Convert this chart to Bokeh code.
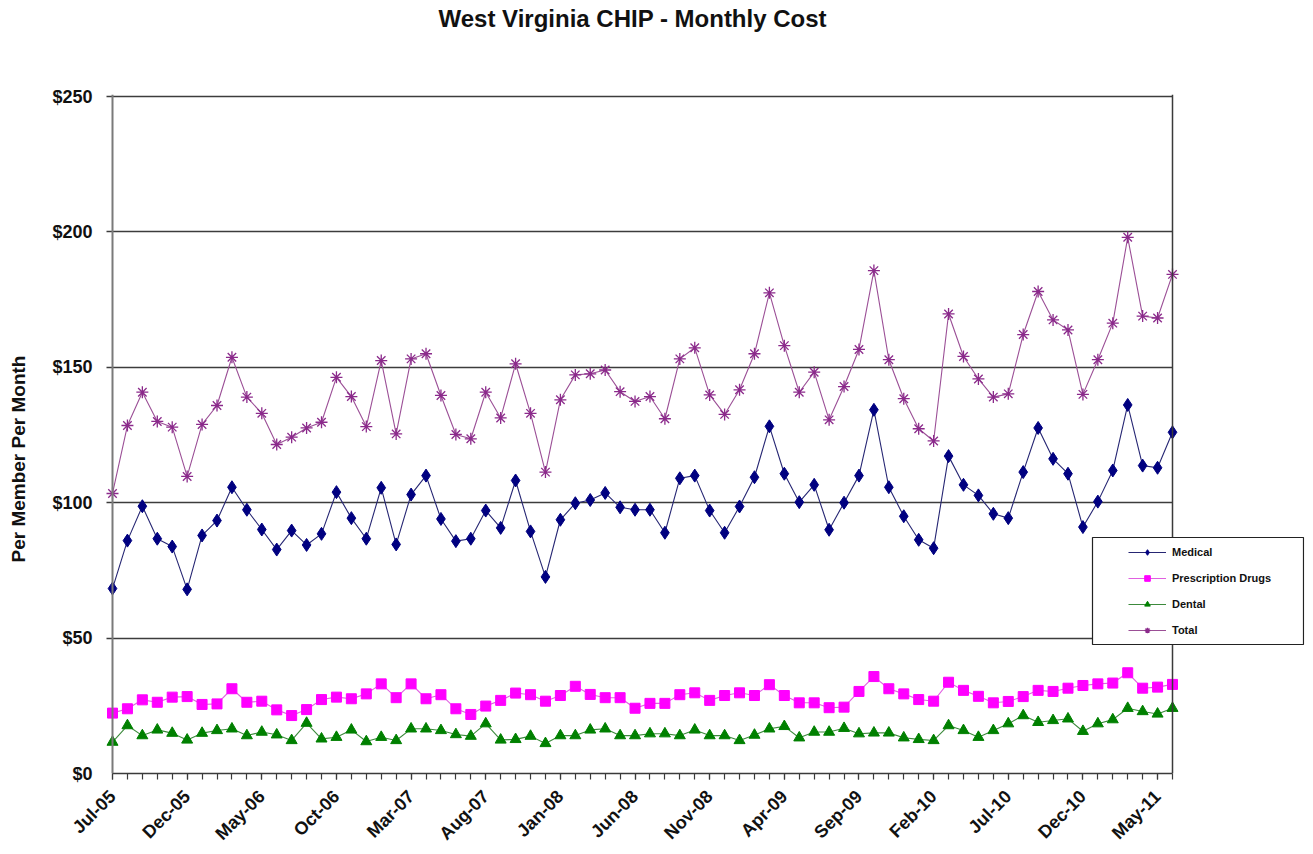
import pandas as pd
from math import pi
from bokeh.plotting import figure
from bokeh.models import (Range1d, FixedTicker, Span, BoxAnnotation, Legend, LegendItem,
                          LinearAxis, Title)
from bokeh.embed import file_html
from bokeh.resources import INLINE

# ---------------- data ----------------
months = list(pd.date_range("2005-07-01", periods=72, freq="MS").strftime("%b-%y"))

medical = [68.3, 86.0, 98.7, 86.7, 83.8, 68.0, 87.9, 93.4, 105.7, 97.4, 90.1, 82.7,
           89.7, 84.4, 88.5, 103.9, 94.3, 86.7, 105.5, 84.6, 103.0, 110.0, 94.0, 85.8,
           86.7, 97.1, 90.7, 108.2, 89.4, 72.6, 93.7, 99.8, 101.0, 103.6, 98.3, 97.4,
           97.4, 88.9, 109.0, 110.0, 97.1, 88.9, 98.6, 109.4, 128.2, 110.7, 100.2, 106.6,
           90.0, 100.0, 110.0, 134.3, 105.7, 95.0, 86.3, 83.2, 117.2, 106.6, 102.7, 95.9,
           94.3, 111.3, 127.6, 116.2, 110.7, 91.0, 100.4, 111.9, 136.1, 113.7, 112.9, 126.0]

rx = [22.3, 23.9, 27.2, 26.3, 28.2, 28.4, 25.5, 25.7, 31.3, 26.3, 26.7, 23.5,
      21.4, 23.6, 27.3, 28.2, 27.6, 29.4, 33.1, 28.0, 33.1, 27.6, 29.1, 23.9,
      21.8, 24.9, 27.0, 29.7, 29.1, 26.7, 28.8, 32.2, 29.2, 28.0, 28.0, 24.1,
      25.9, 25.9, 29.1, 29.8, 27.0, 28.8, 29.8, 28.8, 32.8, 28.8, 26.1, 26.1,
      24.3, 24.5, 30.3, 35.8, 31.3, 29.4, 27.3, 26.7, 33.7, 30.7, 28.5, 26.1,
      26.6, 28.4, 30.7, 30.3, 31.5, 32.5, 33.1, 33.4, 37.2, 31.5, 31.9, 32.9]

dental = [11.6, 17.7, 14.0, 16.1, 14.9, 12.4, 14.9, 15.9, 16.5, 14.0, 15.3, 14.3,
          12.2, 18.6, 12.8, 13.4, 16.1, 11.8, 13.4, 12.2, 16.5, 16.5, 15.9, 14.4,
          13.8, 18.4, 12.4, 12.6, 13.8, 11.1, 14.0, 14.0, 16.1, 16.5, 14.0, 14.0,
          14.7, 14.7, 14.0, 16.1, 14.0, 14.0, 12.2, 14.2, 16.5, 17.4, 13.2, 15.3,
          15.3, 16.7, 14.7, 15.0, 15.0, 13.2, 12.6, 12.2, 17.7, 15.9, 13.4, 15.9,
          18.4, 21.4, 18.9, 19.6, 20.2, 15.6, 18.4, 19.9, 24.1, 22.9, 22.0, 24.1]

total = [103.4, 128.5, 140.8, 130.0, 127.9, 109.7, 128.9, 135.9, 153.7, 139.0, 133.0, 121.5,
         124.2, 127.6, 129.7, 146.3, 139.2, 128.1, 152.5, 125.4, 153.1, 155.0, 139.6, 125.2,
         123.6, 140.8, 131.3, 151.3, 133.0, 111.3, 138.0, 147.2, 147.6, 149.0, 141.0, 137.4,
         139.2, 131.0, 153.1, 157.2, 139.8, 132.6, 141.7, 155.0, 177.5, 158.0, 140.8, 148.2,
         130.6, 142.9, 156.6, 185.7, 152.8, 138.4, 127.3, 122.8, 169.7, 154.0, 145.7, 139.0,
         140.2, 162.1, 178.0, 167.5, 163.8, 140.0, 152.8, 166.3, 198.0, 168.9, 168.2, 184.3]

y_ticks = [0, 50, 100, 150, 200, 250]
y_tick_labels = ["$0", "$50", "$100", "$150", "$200", "$250"]
series_names = ["Medical", "Prescription Drugs", "Dental", "Total"]
title_text = "West Virginia CHIP - Monthly Cost"
y_label_text = "Per Member Per Month"

# ---------------- layout ----------------
x = list(range(len(months)))
last = len(months) - 1
FRAME_LEFT, FRAME_TOP = 104, 94
FRAME_W, FRAME_H = 1200, 679
PX_X = 1060 / last          # px per month
PX_Y = 677 / 250            # px per dollar
X0_PX = 112                 # screen x of first month
Y0_PX = FRAME_TOP + FRAME_H  # screen y of $0
x0 = -(X0_PX - FRAME_LEFT) / PX_X
x1 = x0 + FRAME_W / PX_X
y1 = FRAME_H / PX_Y

FONT = "Liberation Sans"
INK = "#111111"

p = figure(frame_width=FRAME_W, frame_height=FRAME_H,
           x_range=Range1d(x0, x1), y_range=Range1d(0, y1),
           min_border_left=FRAME_LEFT, min_border_right=1, min_border_top=FRAME_TOP,
           min_border_bottom=72,
           output_backend="svg", toolbar_location=None,
           background_fill_color="white", border_fill_color="white",
           outline_line_color=None)
xa = p.below[0]
ya = p.left[0]

# ---- title (offset from frame left so it is centred like the reference) ----
p.title.text = title_text
p.title.text_font = FONT
p.title.text_font_size = "24px"
p.title.text_font_style = "bold"
p.title.text_color = INK
p.title.align = "left"
p.title.offset = 334
p.title.standoff = 0
p.title.vertical_align = "bottom"

# spacer between the title and the plot area
top_gap = LinearAxis(axis_label=" ")
top_gap.ticker = FixedTicker(ticks=[], minor_ticks=[])
top_gap.axis_line_color = None
top_gap.major_tick_line_color = None
top_gap.minor_tick_line_color = None
top_gap.major_tick_out = 0
top_gap.major_tick_in = 0
top_gap.minor_tick_out = 0
top_gap.minor_tick_in = 0
top_gap.major_label_standoff = 0
top_gap.axis_label_text_font_size = "1px"
top_gap.axis_label_standoff = 59
p.add_layout(top_gap, "above")

# ---- x axis ----
xa.ticker = FixedTicker(ticks=list(range(0, len(months), 5)), minor_ticks=x)
xa.major_label_overrides = {i: months[i] for i in range(0, len(months), 5)}
xa.major_label_orientation = pi / 4
xa.bounds = (0, last)
xa.axis_line_color = "#3a3a3a"
xa.axis_line_width = 1.5
xa.major_tick_in = 0
xa.major_tick_out = 6
xa.minor_tick_in = 0
xa.minor_tick_out = 6
xa.major_tick_line_color = "#3a3a3a"
xa.minor_tick_line_color = "#3a3a3a"
xa.major_tick_line_width = 1.2
xa.minor_tick_line_width = 1.2
xa.major_label_text_font = FONT
xa.major_label_text_font_size = "18px"
xa.major_label_text_font_style = "bold"
xa.major_label_text_color = INK
xa.major_label_standoff = 14

# ---- y axis ----
ya.ticker = FixedTicker(ticks=y_ticks, minor_ticks=[])
ya.major_label_overrides = dict(zip(y_ticks, y_tick_labels))
ya.axis_line_color = None
ya.major_tick_line_color = None
ya.minor_tick_line_color = None
ya.major_tick_out = 0
ya.major_tick_in = 0
ya.major_label_standoff = 12
ya.major_label_text_font = FONT
ya.major_label_text_font_size = "18px"
ya.major_label_text_font_style = "bold"
ya.major_label_text_color = INK
# tiny blank axis label used only as a gap before the y title
ya.axis_label = " "
ya.axis_label_text_font_size = "1px"
ya.axis_label_standoff = 17

# y title, placed along the axis like the reference
y_title = Title(text=y_label_text, align="left", offset=211, standoff=0,
                vertical_align="bottom",
                text_font=FONT, text_font_size="19px", text_font_style="bold",
                text_color=INK)
p.add_layout(y_title, "left")

p.xgrid.visible = False
p.ygrid.ticker = FixedTicker(ticks=y_ticks, minor_ticks=[])
p.ygrid.grid_line_color = "#3c3c3c"
p.ygrid.grid_line_width = 1.5
p.ygrid.cross_bounds = (-6 / PX_X, last)

# ---- series ----
styles = [
    (medical, "#000080", "#262673", "diamond", 13),
    (rx, "#ff00ff", "#e060e0", "square", 10),
    (dental, "#008000", "#3c8a3c", "triangle", 11),
    (total, "#8b2a8b", "#9b4f96", "asterisk", 12),
]
items = []
for name, (vals, mcol, lcol, marker, size) in zip(series_names, styles):
    lr = p.line(x, vals, line_color=lcol, line_width=1.1)
    if marker == "asterisk":
        sr = p.scatter(x, vals, marker=marker, size=size, line_color=mcol, line_width=1.3)
    else:
        sr = p.scatter(x, vals, marker=marker, size=size, fill_color=mcol, line_color=mcol)
    items.append(LegendItem(label=name, renderers=[lr, sr]))

# plot area frame lines
p.add_layout(Span(location=0, dimension="height", line_color="#7a7a7a", line_width=2))
p.add_layout(Span(location=last, dimension="height", line_color="#3a3a3a", line_width=1.5))

# legend box
box = BoxAnnotation(left=(1092 - X0_PX) / PX_X, right=(1303 - X0_PX) / PX_X,
                    top=(Y0_PX - 537) / PX_Y, bottom=(Y0_PX - 644) / PX_Y,
                    fill_color="white", fill_alpha=1.0,
                    line_color="#222222", line_width=1.2, line_alpha=1.0)
p.add_layout(box)

legend = Legend(items=items, location=(1128 - FRAME_LEFT, Y0_PX - 640),
                padding=0, spacing=6, margin=0,
                glyph_width=38, glyph_height=14, label_height=20, label_standoff=6,
                label_text_font=FONT, label_text_font_size="11px",
                label_text_font_style="bold", label_text_color=INK,
                border_line_color=None, background_fill_alpha=0)
p.add_layout(legend)

open("out.html", "w").write(file_html(p, INLINE))
